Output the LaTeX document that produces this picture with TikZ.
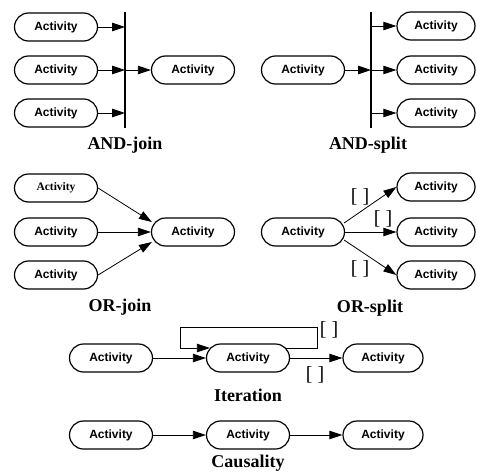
\documentclass[tikz,border=0pt]{standalone}
\usepackage{fontspec}
\setmainfont{Liberation Serif}
\newfontfamily\actfont{Liberation Sans}
\usetikzlibrary{arrows.meta,calc}

\tikzset{
  act/.style={draw, line width=1.2pt, rounded corners=14pt, minimum width=83pt,
    minimum height=28pt, inner sep=0pt,
    font=\actfont\fontsize{12}{13}\selectfont\bfseries},
  actnarrow/.style={act, minimum width=78pt},
  arr/.style={line width=0.8pt, -{Triangle[length=13pt,width=8.5pt]}},
  bar/.style={line width=2pt},
  caption/.style={font=\fontsize{18}{19}\selectfont\bfseries},
  guard/.style={font=\fontsize{20}{21}\selectfont, inner sep=0pt},
}

\begin{document}
\begin{tikzpicture}[x=1pt, y=-1pt]
\useasboundingbox (0,0) rectangle (477,474);

% AND-join
\node[act] (a1) at (56,27) {Activity};
\node[act] (a2) at (56,70) {Activity};
\node[act] (a3) at (56,113) {Activity};
\node[act] (a4) at (193,70) {Activity};
\coordinate (jtop) at (125,12);
\coordinate (jbot) at (125,128);
\draw[bar] (jtop) -- (jbot);
\draw[arr] (a1.east) -- (a1.east -| jtop);
\draw[arr] (a2.east) -- (a2.east -| jtop);
\draw[arr] (a3.east) -- (a3.east -| jtop);
\draw[arr] (a2.east -| jtop) -- (a4.west);
\node[caption] (lj) at (125,145) {AND-join};

% AND-split
\node[act] (b0) at (303,70) {Activity};
\node[actnarrow] (b1) at (436,26) {Activity};
\node[actnarrow] (b2) at (436,70) {Activity};
\node[actnarrow] (b3) at (436,113) {Activity};
\coordinate (stop) at (371,12);
\coordinate (sbot) at (371,128);
\draw[bar] (stop) -- (sbot);
\draw[arr] (b0.east) -- (b0.east -| stop);
\draw[arr] (b1.west -| stop) -- (b1.west);
\draw[arr] (b2.west -| stop) -- (b2.west);
\draw[arr] (b3.west -| stop) -- (b3.west);
\node[caption] (ls) at (368,145) {AND-split};

% OR-join
\node[act, font=\fontsize{11.5}{12}\selectfont\bfseries] (c1) at (56,188) {Activity};
\node[act] (c2) at (56,232) {Activity};
\node[act] (c3) at (56,275) {Activity};
\node[act] (c4) at (193,232) {Activity};
\draw[arr] (c1.east) -- ([yshift=10pt,xshift=1pt]c4.west);
\draw[arr] (c2.east) -- (c4.west);
\draw[arr] (c3.east) -- ([yshift=-10pt,xshift=1pt]c4.west);
\node[caption] (loj) at (120,307) {OR-join};

% OR-split
\node[act] (d0) at (303,232) {Activity};
\node[actnarrow] (d1) at (436,187) {Activity};
\node[actnarrow] (d2) at (436,232) {Activity};
\node[actnarrow] (d3) at (436,275) {Activity};
\draw[arr] ([yshift=9pt,xshift=-1pt]d0.east) -- (d1.west);
\draw[arr] (d0.east) -- (d2.west);
\draw[arr] ([yshift=-8pt,xshift=-1pt]d0.east) -- (d3.west);
\node[guard] (g1) at (360,197) {[ ]};
\node[guard] (g2) at (383,219) {[ ]};
\node[guard] (g3) at (360,269) {[ ]};
\node[caption] (los) at (370,308) {OR-split};

% Iteration
\node[act] (e1) at (111,358) {Activity};
\node[act] (e2) at (248,358) {Activity};
\node[act, minimum width=80pt] (e3) at (383,358) {Activity};
\coordinate (lr) at (317,327);
\coordinate (ll) at (180,327);
\draw[arr] (e1.east) -- (e2.west);
\draw[arr] (e2.east) -- (e3.west);
\draw[arr] ([xshift=-4pt,yshift=10pt]e2.east) -| (lr) -- (ll)
  |- ([xshift=4pt,yshift=10pt]e2.west);
\node[guard] (g4) at (329,330) {[ ]};
\node[guard] (g5) at (315,375) {[ ]};
\node[caption] (lit) at (248,395) {Iteration};

% Causality
\node[act] (f1) at (111,435) {Activity};
\node[act] (f2) at (248,435) {Activity};
\node[act, minimum width=80pt] (f3) at (383,435) {Activity};
\draw[arr] (f1.east) -- (f2.west);
\draw[arr] (f2.east) -- (f3.west);
\node[caption] (lc) at (248,463) {Causality};
\end{tikzpicture}
\end{document}
